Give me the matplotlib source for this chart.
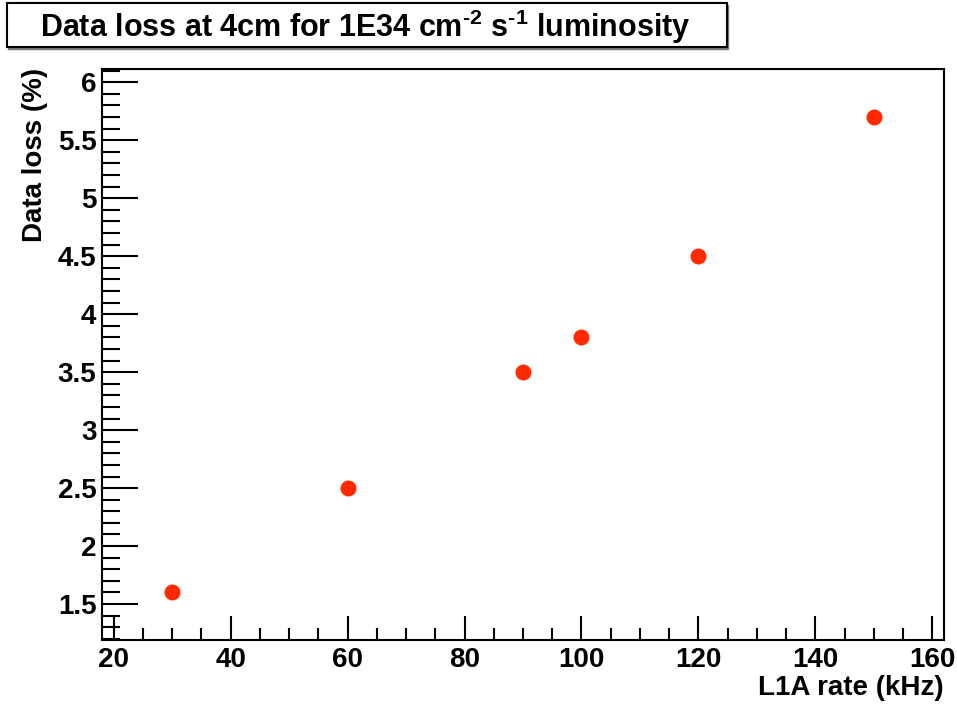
import matplotlib.pyplot as plt
from matplotlib.patches import Rectangle
from matplotlib.ticker import MultipleLocator

# L1A rate (kHz) vs data loss (%)
rates = [30, 60, 90, 100, 120, 150]
loss = [1.6, 2.5, 3.5, 3.8, 4.5, 5.7]

plt.rcParams['font.family'] = ['Liberation Sans', 'DejaVu Sans']
plt.rcParams['font.weight'] = 'bold'
plt.rcParams['mathtext.fontset'] = 'custom'
plt.rcParams['mathtext.rm'] = 'Liberation Sans:bold'
plt.rcParams['mathtext.bf'] = 'Liberation Sans:bold'
plt.rcParams['mathtext.it'] = 'Liberation Sans:bold'

fig = plt.figure(figsize=(9.57, 7.04), dpi=100)
ax = fig.add_axes([0.1066, 0.0909, 0.8798, 0.8104])

ax.plot(rates, loss, 'o', color='#ff2a00', markersize=11.5, markeredgewidth=0)

ax.set_xlim(18, 162)
ax.set_ylim(1.19, 6.11)
ax.xaxis.set_major_locator(MultipleLocator(20))
ax.xaxis.set_minor_locator(MultipleLocator(5))
ax.yaxis.set_major_locator(MultipleLocator(0.5))
ax.yaxis.set_minor_locator(MultipleLocator(0.1))
ax.yaxis.set_major_formatter(plt.FuncFormatter(lambda v, p: f'{v:g}'))

ax.tick_params(axis='both', which='both', direction='in', labelsize=20,
               top=False, right=False, width=1.5)
ax.tick_params(axis='x', which='major', length=17, pad=5)
ax.tick_params(axis='x', which='minor', length=9)
ax.tick_params(axis='y', which='major', length=26, pad=4)
ax.tick_params(axis='y', which='minor', length=13)
for s in ax.spines.values():
    s.set_linewidth(1.5)

fig.text(0.9864, 0.023, 'L1A rate (kHz)', ha='right', va='center',
         fontsize=20, fontweight='bold')
fig.text(0.037, 0.903, 'Data loss (%)', ha='center', va='top',
         rotation=90, fontsize=20, fontweight='bold')

# title box with a thin shadow
fig.patches.append(Rectangle((8 / 957, 1 - 48.5 / 704), 720 / 957, 44 / 704,
                             transform=fig.transFigure, fill=True,
                             facecolor='#777777', edgecolor='#777777',
                             linewidth=1))
fig.patches.append(Rectangle((7 / 957, 1 - 47 / 704), 720 / 957, 44 / 704,
                             transform=fig.transFigure, fill=True,
                             facecolor='white', edgecolor='black',
                             linewidth=1.5))
fig.text(365 / 957, 1 - 27 / 704,
         r'Data loss at 4cm for 1E34 cm$^{\text{-2}}$ s$^{\text{-1}}$ luminosity',
         ha='center', va='center', fontsize=22, fontweight='bold')

fig.savefig('out.png', dpi=100)
